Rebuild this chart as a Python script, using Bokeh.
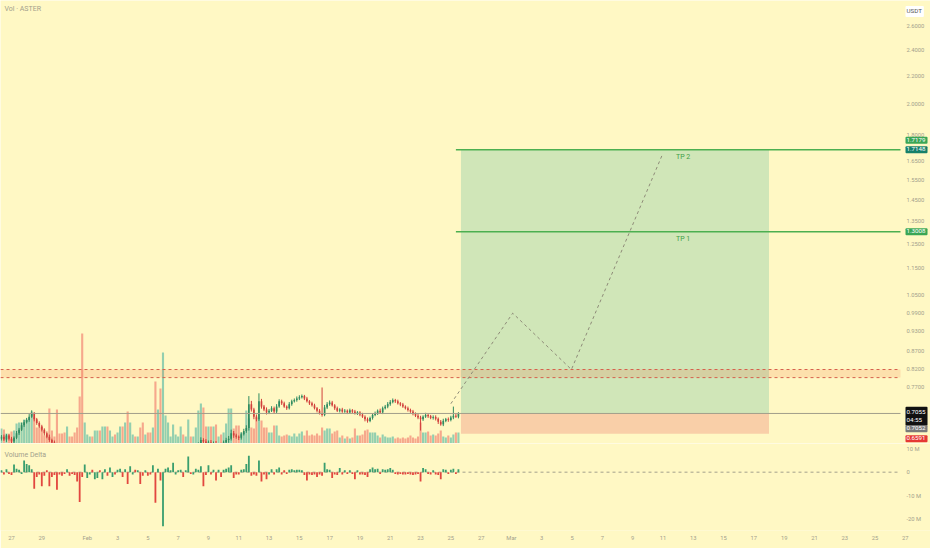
import pandas as pd
from bokeh.plotting import figure
from bokeh.models import Range1d, FixedTicker, PrintfTickFormatter, Label, LinearScale
from bokeh.layouts import column
from bokeh.embed import file_html
from bokeh.resources import INLINE
from bokeh.core.properties import value

# ---------------- data ----------------
BAR_START = "2026-01-26 08:00"   # 4h candles
BAR_FREQ = "4h"
first_open = 0.648

close = [
    0.652, 0.646, 0.655, 0.648,
    0.642, 0.650, 0.660, 0.668, 0.678, 0.685,
    0.690, 0.698, 0.705, 0.692, 0.683, 0.675,
    0.668, 0.660, 0.652, 0.645, 0.640, 0.632,
    0.625, 0.620, 0.615, 0.610, 0.618, 0.605,
    0.600, 0.595, 0.590, 0.575, 0.545, 0.560,
    0.565, 0.570, 0.562, 0.568, 0.575, 0.572,
    0.578, 0.585, 0.580, 0.588, 0.592, 0.590,
    0.595, 0.600, 0.598, 0.605, 0.595, 0.600,
    0.602, 0.598, 0.600, 0.595, 0.590, 0.592,
    0.588, 0.585, 0.592, 0.560, 0.565, 0.545,
    0.575, 0.580, 0.585, 0.590, 0.595, 0.598,
    0.600, 0.605, 0.603, 0.608, 0.615, 0.612,
    0.618, 0.628, 0.636, 0.645, 0.642, 0.638,
    0.640, 0.636, 0.638, 0.630, 0.634, 0.632,
    0.640, 0.645, 0.648, 0.660, 0.655, 0.652,
    0.650, 0.658, 0.665, 0.672, 0.728, 0.715,
    0.698, 0.692, 0.735, 0.722, 0.715, 0.708,
    0.712, 0.718, 0.710, 0.722, 0.735, 0.730,
    0.722, 0.718, 0.728, 0.735, 0.738, 0.742,
    0.745, 0.748, 0.742, 0.735, 0.730, 0.725,
    0.718, 0.712, 0.706, 0.702, 0.720, 0.728,
    0.732, 0.725, 0.718, 0.712, 0.715, 0.710,
    0.712, 0.708, 0.713, 0.710, 0.706, 0.708,
    0.703, 0.698, 0.692, 0.688, 0.695, 0.702,
    0.706, 0.712, 0.708, 0.718, 0.722, 0.728,
    0.733, 0.738, 0.735, 0.730, 0.727, 0.722,
    0.718, 0.714, 0.710, 0.705, 0.700, 0.696,
    0.692, 0.698, 0.702, 0.699, 0.695, 0.697,
    0.693, 0.686, 0.680, 0.688, 0.692, 0.690,
    0.696, 0.700, 0.698, 0.7055,
]

up_wick = [
    .004, .005, .003, .004,
    .004, .003, .005, .004, .006, .005,
    .005, .006, .008, .004, .003, .004,
    .004, .003, .004, .005, .003, .004,
    .005, .004, .006, .005, .004, .005,
    .004, .005, .006, .008, .010, .006,
    .005, .004, .006, .005, .004, .005,
    .004, .005, .004, .006, .005, .004,
    .005, .004, .006, .004, .005, .004,
    .004, .005, .004, .005, .004, .005,
    .005, .004, .006, .008, .006, .010,
    .012, .006, .005, .004, .005, .004,
    .004, .005, .004, .005, .006, .004,
    .005, .006, .004, .006, .004, .005,
    .004, .005, .004, .005, .004, .005,
    .004, .005, .006, .008, .005, .004,
    .003, .004, .005, .006, .020, .008,
    .004, .005, .020, .006, .004, .005,
    .004, .005, .004, .006, .005, .004,
    .004, .003, .005, .004, .004, .005,
    .005, .004, .003, .004, .003, .004,
    .004, .003, .004, .064, .006, .005,
    .005, .004, .003, .004, .003, .004,
    .004, .003, .004, .003, .004, .003,
    .003, .004, .003, .004, .003, .004,
    .004, .003, .005, .004, .004, .005,
    .005, .004, .003, .004, .003, .004,
    .003, .004, .003, .004, .003, .004,
    .004, .003, .005, .004, .003, .004,
    .004, .003, .004, .005, .003, .004,
    .004, .022, .004, .003,
]

dn_wick = [
    .004, .003, .005, .004,
    .005, .004, .003, .004, .003, .004,
    .003, .004, .003, .005, .004, .003,
    .004, .005, .003, .004, .005, .004,
    .005, .004, .005, .006, .004, .005,
    .004, .005, .006, .010, .015, .006,
    .005, .004, .006, .005, .004, .005,
    .004, .005, .004, .006, .005, .004,
    .005, .004, .006, .004, .005, .004,
    .004, .005, .004, .005, .004, .005,
    .005, .004, .006, .010, .006, .012,
    .015, .006, .005, .004, .005, .004,
    .004, .005, .004, .005, .006, .004,
    .005, .006, .004, .006, .004, .005,
    .004, .005, .004, .005, .004, .005,
    .004, .005, .006, .004, .005, .004,
    .005, .004, .003, .004, .006, .005,
    .006, .005, .004, .005, .004, .005,
    .004, .003, .005, .004, .003, .004,
    .003, .004, .003, .004, .003, .004,
    .004, .003, .004, .003, .004, .003,
    .003, .004, .003, .004, .003, .004,
    .004, .003, .004, .003, .004, .003,
    .003, .004, .003, .004, .003, .004,
    .004, .003, .005, .004, .003, .004,
    .003, .004, .003, .004, .003, .004,
    .004, .003, .004, .003, .004, .003,
    .003, .004, .003, .004, .003, .004,
    .026, .004, .003, .004, .003, .004,
    .004, .005, .003, .004, .003, .004,
    .003, .004, .003, .004,
]

volume_m = [
    15, 14, 10, 9,
    12, 13, 20, 21, 21, 24,
    24, 26, 32, 26, 16, 16,
    17, 8, 8, 35, 13, 7,
    34, 10, 10, 11, 17, 7,
    7, 11, 16, 47, 110, 21,
    9, 7, 7, 13, 13, 13,
    17, 17, 17, 13, 7, 9,
    11, 17, 17, 21, 32, 21,
    9, 7, 7, 16, 21, 9,
    11, 11, 16, 62, 34, 55,
    91, 28, 21, 7, 19, 9,
    7, 17, 9, 7, 24, 7,
    7, 16, 33, 40, 36, 17,
    17, 17, 17, 19, 7, 9,
    11, 20, 35, 35, 15, 18,
    18, 11, 11, 33, 25, 16,
    15, 25, 25, 23, 16, 16,
    11, 11, 18, 18, 8, 7,
    8, 9, 8, 7, 10, 7,
    10, 12, 8, 13, 8, 9,
    8, 10, 8, 16, 13, 15,
    15, 10, 12, 13, 6, 8,
    5, 7, 5, 6, 15, 8,
    8, 9, 13, 14, 11, 11,
    11, 8, 6, 9, 7, 6,
    6, 7, 5, 6, 5, 6,
    5, 6, 8, 6, 5, 7,
    21, 11, 11, 12, 8, 9,
    8, 10, 13, 7, 6, 8,
    6, 9, 11, 11,
]

delta_m = [
    0.8, -1.0, 1.2, -0.8,
    -1.2, 3.3, 1.5, 1.0, -0.8, 5.0,
    3.5, 3.0, 1.2, -7.0, -2.0, -1.0,
    -6.0, -1.5, 0.8, -6.0, -2.0, -1.2,
    -7.5, -1.0, -1.5, -0.8, 1.2, -1.5,
    -0.8, -1.2, -4.0, -12.7, -2.0, 3.3,
    -2.5, -1.0, 1.0, -3.0, -2.5, 0.8,
    -3.0, 1.2, -1.5, 2.0, -2.0, -1.0,
    1.0, 1.5, -2.0, 1.2, -5.0, 2.5,
    -1.0, 1.0, 0.8, -5.0, -1.5, 0.8,
    -1.5, -1.0, 3.0, -13.0, 1.5, -3.5,
    -23.0, 1.5, 2.0, 0.8, 4.0, -1.0,
    0.8, 1.0, -2.0, 0.8, 6.7, -0.8,
    -1.0, 1.5, 1.0, 2.5, -6.0, -1.2,
    3.0, -1.0, 1.0, -3.5, 1.0, -2.0,
    1.0, 1.5, 2.0, 3.0, -2.5, -1.0,
    -1.0, 1.0, 1.2, 3.5, 7.0, -1.5,
    -1.0, -1.5, 5.0, -4.0, -1.0, -3.0,
    -1.0, 1.2, -1.0, 1.2, 2.0, -1.0,
    0.8, -0.8, 1.0, 1.2, 0.8, 1.0,
    1.0, 0.8, -1.2, -3.5, -1.0, -1.2,
    -1.0, -2.0, -1.0, -1.5, 4.0, 1.2,
    1.0, -2.5, -1.0, -1.2, 1.8, -1.0,
    0.8, -0.8, 0.8, -0.8, -3.0, 0.8,
    -1.0, -1.0, -1.2, -2.0, 1.2, 2.0,
    1.2, 1.5, -0.8, 1.2, 1.0, 1.2,
    1.8, 1.0, -0.8, -1.0, -0.8, -1.0,
    -1.0, -0.8, -1.0, -1.2, -1.0, -0.8,
    -4.0, 1.8, 1.2, -0.8, -1.0, 0.8,
    -1.0, -1.2, -3.0, 1.2, 1.0, -0.8,
    1.0, 1.5, -0.8, 1.2,
]

# levels / drawings
last_price = 0.7055
entry_price = 0.7052
stop_price = 0.6591
target_price = 1.7148
tp1_price = 1.3008
high_mark = 1.7179
countdown = "04:55"
zone_low, zone_high = 0.796, 0.818
pos_start, pos_end = "2026-02-25 16:00", "2026-03-18 00:00"
tp_start = "2026-02-25 08:00"
tp_label_date = "2026-03-12 08:00"
path_dates = ["2026-02-25 00:00", "2026-03-01 02:00", "2026-03-04 23:00", "2026-03-11 00:00"]
path_prices = [0.729, 0.989, 0.818, 1.695]

tick_dates = ["2026-01-27", "2026-01-29", "2026-02-01", "2026-02-03", "2026-02-05", "2026-02-07",
              "2026-02-09", "2026-02-11", "2026-02-13", "2026-02-15", "2026-02-17", "2026-02-19",
              "2026-02-21", "2026-02-23", "2026-02-25", "2026-02-27", "2026-03-01", "2026-03-03",
              "2026-03-05", "2026-03-07", "2026-03-09", "2026-03-11", "2026-03-13", "2026-03-15",
              "2026-03-17", "2026-03-19", "2026-03-21", "2026-03-23", "2026-03-25", "2026-03-27"]
tick_labels = ["27", "29", "Feb", "3", "5", "7", "9", "11", "13", "15", "17", "19", "21", "23",
               "25", "27", "Mar", "3", "5", "7", "9", "11", "13", "15", "17", "19", "21", "23",
               "25", "27"]
price_ticks = [0.71, 0.77, 0.82, 0.87, 0.93, 0.99, 1.05, 1.15, 1.25, 1.35, 1.45, 1.55, 1.65,
               1.80, 2.00, 2.20, 2.40, 2.60]
delta_ticks = [-20, -10, 0, 10]
delta_tick_labels = ["-20 M", "-10 M", "0", "10 M"]

# ---------------- helpers ----------------
T0 = pd.Timestamp("2026-01-27 00:00")


def xd(s):
    return (pd.to_datetime(s) - T0) / pd.Timedelta(days=1)


n = len(close)
times = pd.date_range(BAR_START, periods=n, freq=BAR_FREQ)
xs = [(t - T0) / pd.Timedelta(days=1) for t in times]
opens = [first_open] + close[:-1]
highs = [max(o, c) + w for o, c, w in zip(opens, close, up_wick)]
lows = [min(o, c) - w for o, c, w in zip(opens, close, dn_wick)]
up = [c >= o for o, c in zip(opens, close)]

BG = "#fff8c4"
AX = "#a3a08c"
FONT = "Roboto"
UP_C, DN_C = "#2e8b60", "#d1403c"
VUP_C, VDN_C = "#93cfaf", "#f6a88c"
DUP_C, DDN_C = "#3a9e6e", "#e2473f"

W = 930
H1, H2 = 443, 105
F2 = 87            # frame height of the delta pane
X_LEFT, X_EDGE, X_RIGHT = -0.726, 58.68, 60.66   # view: left, price-scale edge, canvas right
TAG_X = 905
AXIS_FS = "5.8px"
AXIS_STANDOFF = 6

xr = Range1d(X_LEFT, X_RIGHT)

# ---------------- main pane ----------------
p = figure(width=W, height=H1, x_range=xr, y_range=Range1d(0.6376, 2.835),
           y_axis_type="log", y_axis_location="right", x_axis_location=None,
           output_backend="svg", toolbar_location=None, min_border=0,
           background_fill_color=BG, border_fill_color=BG, outline_line_color=None)
p.grid.visible = False
p.extra_y_ranges = {"vol": Range1d(0, 443)}
p.extra_y_scales = {"vol": LinearScale()}

ya = p.yaxis[0]
ya.fixed_location = X_EDGE
ya.ticker = FixedTicker(ticks=price_ticks, minor_ticks=[])
ya.formatter = PrintfTickFormatter(format="%.4f")
ya.axis_line_color = None
ya.major_tick_line_color = None
ya.minor_tick_line_color = None
ya.major_tick_out = 0
ya.major_label_text_font = FONT
ya.major_label_text_font_size = AXIS_FS
ya.major_label_text_color = AX
ya.major_label_standoff = AXIS_STANDOFF

# volume
p.vbar(x=xs, top=volume_m, bottom=0, width=0.14, y_range_name="vol",
       fill_color=[VUP_C if u else VDN_C for u in up], line_color=None)
# candles
cc = [UP_C if u else DN_C for u in up]
p.segment(x0=xs, x1=xs, y0=lows, y1=highs, line_color=cc, line_width=1)
p.vbar(x=xs, bottom=[min(o, c) for o, c in zip(opens, close)],
       top=[max(o, c) for o, c in zip(opens, close)], width=0.11,
       fill_color=cc, line_color=None)

# position box
p.quad(left=[xd(pos_start)], right=[xd(pos_end)], bottom=[entry_price], top=[target_price],
       fill_color="#d0e6b8", line_color=None)
p.quad(left=[xd(pos_start)], right=[xd(pos_end)], bottom=[stop_price], top=[entry_price],
       fill_color="#f9cfa8", line_color=None)

# resistance zone
p.quad(left=[X_LEFT], right=[X_EDGE], bottom=[zone_low], top=[zone_high],
       fill_color="#f05a28", fill_alpha=0.15, line_color=None)
p.segment(x0=[X_LEFT] * 2, x1=[X_EDGE] * 2, y0=[zone_low, zone_high], y1=[zone_low, zone_high],
          line_color="#d6604c", line_dash="3 3", line_width=1)

# current price line
p.segment(x0=[X_LEFT], x1=[X_EDGE], y0=[last_price], y1=[last_price],
          line_color="#a19e8a", line_width=1)

# take profit lines
p.segment(x0=[xd(tp_start)] * 2, x1=[X_EDGE] * 2, y0=[tp1_price, target_price],
          y1=[tp1_price, target_price], line_color="#4caf50", line_width=1.5)
p.text(x=[xd(tp_label_date)] * 2, y=[target_price, tp1_price], text=["TP 2", "TP 1"],
       text_font=value(FONT), text_font_size="7px", text_color="#43a047",
       text_align="center", text_baseline="top", y_offset=3)

# projection path
p.line(x=[xd(d) for d in path_dates], y=path_prices, line_color="#8e8b78",
       line_dash="3 3", line_width=1)

# texts
p.add_layout(Label(x=4, y=H1 - 8.5, x_units="screen", y_units="screen", text="Vol · ASTER",
                   text_font=FONT, text_font_size="7px", text_color=AX, text_baseline="middle"))


def price_tag(text, y, bg, fg="white", dy=0, units="data"):
    p.add_layout(Label(x=TAG_X, y=y, x_units="screen", y_units=units, y_offset=dy, text=text,
                       text_font=FONT, text_font_size="6.2px", text_color=fg,
                       text_line_height=1.0, text_baseline="middle", text_align="left",
                       background_fill_color=bg, padding=(1, 2, 1, 2), border_radius=1))


price_tag("USDT", H1 - 11, "white", fg="#555555", units="screen")
price_tag(f"{high_mark:.4f}", high_mark, "#3aa655", dy=9)
price_tag(f"{target_price:.4f}", target_price, "#17806a")
price_tag(f"{tp1_price:.4f}", tp1_price, "#3aa655")
price_tag(f"{last_price:.4f}\n{countdown}", last_price, "#111111", dy=-2.9)
price_tag(f"{entry_price:.4f}", entry_price, "#7a7a7a", dy=-15.1)
price_tag(f"{stop_price:.4f}", stop_price, "#e53935", dy=-5)

# ---------------- volume delta pane ----------------
q = figure(width=W, height=H2, x_range=xr, y_range=Range1d(-24.8, 12.2),
           y_axis_location="right", output_backend="svg", toolbar_location=None,
           min_border=0, min_border_bottom=H2 - F2,
           background_fill_color=BG, border_fill_color=BG, outline_line_color=None)
q.grid.visible = False
q.segment(x0=[X_LEFT], x1=[X_EDGE], y0=[0], y1=[0], line_color=AX, line_dash="3 3", line_width=1)
q.vbar(x=xs, top=delta_m, bottom=0, width=0.12,
       fill_color=[DUP_C if u else DDN_C for u in up], line_color=None)
q.add_layout(Label(x=4, y=F2 - 11, x_units="screen", y_units="screen", text="Volume Delta",
                   text_font=FONT, text_font_size="7px", text_color=AX, text_baseline="middle"))

qy = q.yaxis[0]
qy.fixed_location = X_EDGE
qy.ticker = FixedTicker(ticks=delta_ticks, minor_ticks=[])
qy.major_label_overrides = {t: l for t, l in zip(delta_ticks, delta_tick_labels)}
qx = q.xaxis[0]
tick_pos = [xd(d) for d in tick_dates]
qx.ticker = FixedTicker(ticks=tick_pos, minor_ticks=[])
qx.major_label_overrides = {t: l for t, l in zip(tick_pos, tick_labels)}
for ax in (qx, qy):
    ax.axis_line_color = None
    ax.major_tick_line_color = None
    ax.minor_tick_line_color = None
    ax.major_tick_out = 0
    ax.major_label_text_font = FONT
    ax.major_label_text_font_size = AXIS_FS
    ax.major_label_text_color = AX
qy.major_label_standoff = AXIS_STANDOFF
qx.major_label_standoff = 4

layout = column(p, q, spacing=0)
open("out.html", "w").write(file_html(layout, INLINE))
